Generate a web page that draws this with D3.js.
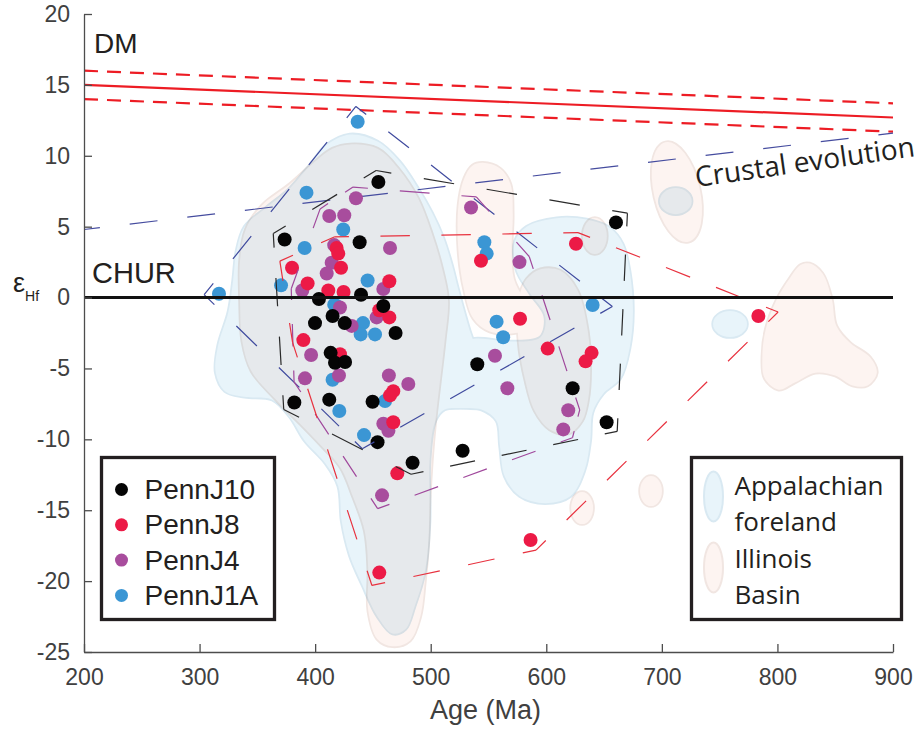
<!DOCTYPE html>
<html>
<head>
<meta charset="utf-8">
<script src="https://cdn.jsdelivr.net/npm/d3@7"></script>
<style>
  body { margin: 0; background: #fff; }
  text { font-family: "Liberation Sans", Arial, sans-serif; fill: #231f20; }
  .myriad { font-family: "Open Sans", sans-serif; }
  .tick text { fill: #404040; }
</style>
</head>
<body>
<svg id="chart"></svg>
<script>
var svgWidth = 918;
var svgHeight = 731;

var margin = { top: 14, right: 25, bottom: 79, left: 84 };
var width = svgWidth - margin.left - margin.right;
var height = svgHeight - margin.top - margin.bottom;

// zircon samples, [age (Ma), eHf]
var pennJ10 = [[373.6,4.1],[438.5,3.9],[454.7,8.15],[439.7,0.2],[403.3,-0.1],[459,-0.6],[415.1,-1.3],
  [399.9,-1.8],[425.6,-1.8],[469.6,-2.5],[413.4,-3.9],[417.2,-4.6],[425.9,-4.55],[382,-7.4],[412.2,-7.2],
  [449.7,-7.35],[454,-10.2],[484.3,-11.65],[527.6,-10.8],[540.3,-4.7],[660.3,5.3],[622.8,-6.4],[652.2,-8.8]];
var pennJ8 = [[418.6,3.5],[420,3.1],[380,2.1],[422.4,2.1],[464.2,1.15],[393.5,1.0],[411.4,0.5],[424.6,0.4],
  [455.5,-0.9],[464.2,-1.4],[389.8,-3.0],[421.5,-4.0],[467.6,-6.6],[464.8,-6.9],[467.6,-8.8],[471.1,-12.4],
  [455.5,-19.4],[586.4,-17.1],[543.5,2.6],[625.7,3.8],[577.3,-1.5],[601.2,-3.6],[639.2,-3.9],[634,-4.5],[783.5,-1.3]];
var pennJ4 = [[435.3,7.0],[412.2,5.75],[425.2,5.8],[464.8,3.5],[416.5,3.7],[414.3,2.45],[410,1.7],[388.9,0.5],
  [459,0.6],[421.5,-0.7],[453.2,-1.4],[431.6,-2.0],[396.5,-4.05],[420.6,-5.5],[391.2,-5.7],[463.8,-5.5],
  [480.6,-6.1],[459,-8.9],[463.4,-9.4],[457.9,-13.95],[534.9,6.35],[576.8,2.5],[555.6,-4.1],[566.3,-6.4],
  [619,-7.95],[614.7,-9.3]];
var pennJ1A = [[436.8,12.4],[392.5,7.4],[424.3,4.8],[390.9,3.5],[445.4,1.2],[370.5,0.86],[316.8,0.27],
  [416.5,-0.5],[418.6,-0.6],[441.4,-1.8],[439.4,-2.6],[451.8,-2.6],[415.1,-5.8],[420.9,-8.0],[460.5,-7.3],
  [442.3,-9.7],[546.4,3.9],[548.4,3.1],[557,-1.7],[562.7,-2.8],[640.1,-0.53]];

var seriesNames = ["PennJ10", "PennJ8", "PennJ4", "PennJ1A"];
var seriesColors = ["#050505", "#ec1a46", "#a84d9d", "#3b96d4"];
var hullColors = ["#2a2a2a", "#e8323f", "#a0489c", "#3f4a9e"];

// reference lines, [age, eHf] end points
var dmLine = [[200, 15.0], [900, 12.7]];
var dmUpper = [[200, 16.0], [900, 13.7]];
var dmLower = [[200, 14.0], [900, 11.7]];
var crustalLine = [[200, 4.8], [900, 11.6]];

// density outlines, Appalachian foreland
var appalachianMain = [[430,11.5],[454,11.0],[473,9.6],[489,7.7],[501,6.0],[511,4.2],[518,2.4],[524,0.5],
  [534,-2.4],[543,-4.5],[547,-6.9],[534,-7.7],[512,-7.9],[504,-8.7],[499,-11.5],[499,-15.8],[495,-19.3],
  [486,-21.8],[478,-23.4],[467,-23.7],[454,-22.5],[441,-20.3],[430,-18.2],[423,-15.8],[420,-13.3],
  [409,-11.7],[391,-10.1],[378,-8.4],[363,-7.2],[339,-7.0],[322,-6.6],[314,-5.3],[316,-3.4],[325,-1.0],
  [329,1.2],[332,3.3],[339,5.0],[357,6.3],[378,7.7],[396,9.4],[409,10.7]];
var appalachianEast = [[573,4.0],[583,5.0],[609,5.6],[635,5.5],[655,4.9],[666,3.8],[672,1.9],[675,-1.0],
  [672,-3.6],[664,-5.7],[649,-6.8],[640,-8.1],[638,-10.1],[633,-12.2],[621,-14.0],[599,-14.5],[577,-14.0],
  [564,-12.6],[560,-10.5],[557,-8.7],[544,-7.9],[524,-7.7],[510,-6.7],[508,-4.8],[517,-3.4],[538,-2.9],
  [569,-3.1],[595,-2.8],[599,-1.3],[586,0.3],[574,2.0]];
// [age, eHf, radius age, radius eHf, rotation deg]
var appalachianSpots = [[712,6.8,13.8,0.92,0],[759,-1.87,14.7,0.92,0]];

// density outlines, Illinois Basin
var illinoisMain = [[430,10.8],[454,10.5],[472,9.1],[489,7.0],[501,4.5],[510,2.0],[515,-0.2],[512,-3.1],
  [508,-5.9],[504,-8.7],[501,-11.5],[499,-14.4],[498,-17.2],[495,-20.0],[491,-22.5],[482,-24.2],
  [467,-24.6],[454,-24.1],[446,-22.1],[446,-19.3],[443,-16.5],[433,-14.1],[422,-12.0],[407,-10.6],
  [387,-8.9],[365,-7.1],[345,-5.2],[337,-3.1],[335,-0.2],[335,2.6],[340,4.8],[354,6.5],[378,8.0],
  [400,9.6],[415,10.5]];
var illinoisColumn = [[545,9.5],[560,9.1],[569,8.0],[571,5.9],[570,3.3],[572,1.3],[580,0.0],[589,-1.0],
  [588,-2.0],[573,-2.5],[551,-2.4],[537,-1.5],[529,0.5],[524,3.3],[524,6.5],[529,8.4],[536,9.3]];
var illinoisMiddle = [[595,2.0],[612,1.9],[627,0.5],[636,-2.4],[638,-5.2],[636,-7.3],[631,-8.7],[619,-9.6],
  [603,-9.3],[590,-8.0],[582,-5.9],[576,-3.1],[576,-0.2],[583,1.3]];
var illinoisEast = [[828,2.4],[839,1.7],[847,-0.1],[851,-2.0],[863,-3.2],[880,-4.2],[886,-5.3],[878,-6.2],
  [865,-6.2],[850,-5.5],[833,-5.3],[815,-6.0],[801,-6.5],[789,-5.7],[787,-4.1],[790,-2.2],[799,-0.2],
  [811,1.4],[820,2.3]];
var illinoisSpots = [[642,4.34,10.4,1.27,0],[713,7.44,19.9,3.6,-13],[631,-14.85,9.5,1.13,0],[690.6,-13.65,9.5,1.06,0]];

var xTicks = [200, 300, 400, 500, 600, 700, 800, 900];
var yTicks = [-25, -20, -15, -10, -5, 0, 5, 10, 15, 20];

var blueFill = "#e8f4fa", blueEdge = "#d9e9f2";
var pinkFill = "#fdf4f1", pinkEdge = "#f1e6e2";

var svg = d3.select("#chart")
  .attr("width", svgWidth)
  .attr("height", svgHeight);

var chartGroup = svg.append("g")
  .attr("transform", `translate(${margin.left}, ${margin.top})`);

var x = d3.scaleLinear().domain([200, 900]).range([0, width]);
var y = d3.scaleLinear().domain([-25, 20]).range([height, 0]);

chartGroup.append("clipPath").attr("id", "plotClip")
  .append("rect").attr("width", width).attr("height", height);

var plot = chartGroup.append("g").attr("clip-path", "url(#plotClip)");

var blob = d3.line()
  .x(d => x(d[0]))
  .y(d => y(d[1]))
  .curve(d3.curveCatmullRomClosed.alpha(0.5));

// draws outlines first then fills, so overlapping shapes merge without inner borders
function drawRegions(layer, shapes, spots, fill, edge) {
  [true, false].forEach(function(isEdge) {
    shapes.forEach(function(s) {
      layer.append("path")
        .attr("d", blob(s))
        .attr("fill", fill)
        .attr("stroke", isEdge ? edge : "none")
        .attr("stroke-width", 3.5);
    });
    spots.forEach(function(s) {
      var cx = x(s[0]), cy = y(s[1]);
      layer.append("ellipse")
        .attr("cx", cx).attr("cy", cy)
        .attr("rx", x(s[0] + s[2]) - cx)
        .attr("ry", cy - y(s[1] + s[3]))
        .attr("transform", `rotate(${s[4]}, ${cx}, ${cy})`)
        .attr("fill", fill)
        .attr("stroke", isEdge ? edge : "none")
        .attr("stroke-width", 3.5);
    });
  });
}

var blueLayer = plot.append("g");
drawRegions(blueLayer, [appalachianMain, appalachianEast], appalachianSpots, blueFill, blueEdge);

var pinkLayer = plot.append("g").style("mix-blend-mode", "multiply");
drawRegions(pinkLayer, [illinoisMain, illinoisColumn, illinoisMiddle, illinoisEast], illinoisSpots, pinkFill, pinkEdge);

var straight = d3.line().x(d => x(d[0])).y(d => y(d[1]));

// DM envelope
plot.append("path").attr("d", straight(dmLine))
  .attr("fill", "none").attr("stroke", "#ed1c24").attr("stroke-width", 2.2);
[dmUpper, dmLower].forEach(function(l) {
  plot.append("path").attr("d", straight(l))
    .attr("fill", "none").attr("stroke", "#ed1c24").attr("stroke-width", 2.2)
    .attr("stroke-dasharray", "14,9");
});

// crustal evolution trend
plot.append("path").attr("d", straight(crustalLine))
  .attr("fill", "none").attr("stroke", "#454c9f").attr("stroke-width", 1.2)
  .attr("stroke-dasharray", "28,30").attr("stroke-dashoffset", 12);

// convex hull pushed outwards by r pixels
function offsetHull(pts, r) {
  var hull = d3.polygonHull(pts);
  var c = d3.polygonCentroid(hull);
  var n = hull.length;
  var normals = hull.map(function(p, i) {
    var q = hull[(i + 1) % n];
    var dx = q[0] - p[0], dy = q[1] - p[1], len = Math.hypot(dx, dy);
    var nx = dy / len, ny = -dx / len;
    var mx = (p[0] + q[0]) / 2 - c[0], my = (p[1] + q[1]) / 2 - c[1];
    if (nx * mx + ny * my < 0) { nx = -nx; ny = -ny; }
    return [nx, ny];
  });
  return hull.map(function(p, i) {
    var n1 = normals[(i - 1 + n) % n], n2 = normals[i];
    var k = r / (1 + n1[0] * n2[0] + n1[1] * n2[1]);
    return [p[0] + k * (n1[0] + n2[0]), p[1] + k * (n1[1] + n2[1])];
  });
}

var allSeries = [pennJ10, pennJ8, pennJ4, pennJ1A];

// points, blue drawn first and black on top
var drawOrder = [3, 2, 1, 0];
drawOrder.forEach(function(si) {
  plot.append("g").selectAll("circle")
    .data(allSeries[si])
    .enter().append("circle")
    .attr("cx", d => x(d[0]))
    .attr("cy", d => y(d[1]))
    .attr("r", 7)
    .attr("fill", seriesColors[si]);
});

// dashed hulls, every corner sits in the middle of a dash
drawOrder.forEach(function(si) {
  var px = allSeries[si].map(d => [x(d[0]), y(d[1])]);
  var poly = offsetHull(px, 11);
  var g = plot.append("g");
  poly.forEach(function(p, i) {
    var q = poly[(i + 1) % poly.length];
    var L = Math.hypot(q[0] - p[0], q[1] - p[1]);
    var k = Math.max(1, Math.round(L / 58));
    var per = L / k, dash = per * 28 / 58;
    g.append("line")
      .attr("x1", p[0]).attr("y1", p[1])
      .attr("x2", q[0]).attr("y2", q[1])
      .attr("stroke", hullColors[si])
      .attr("stroke-width", 1.2)
      .attr("stroke-dasharray", dash + "," + (per - dash))
      .attr("stroke-dashoffset", dash / 2);
  });
});

// CHUR
plot.append("line")
  .attr("x1", x(200)).attr("x2", x(900))
  .attr("y1", y(0)).attr("y2", y(0))
  .attr("stroke", "#111").attr("stroke-width", 3);

// axes
var bottomAxis = d3.axisBottom(x).tickValues(xTicks).tickSizeInner(-8).tickSizeOuter(0)
  .tickPadding(17).tickFormat(d => String(d));
var leftAxis = d3.axisLeft(y).tickValues(yTicks).tickSizeInner(-8).tickSizeOuter(0)
  .tickPadding(14).tickFormat(d => String(d));

var xAxis = chartGroup.append("g")
  .attr("transform", `translate(0, ${height})`)
  .call(bottomAxis);
var yAxis = chartGroup.append("g").call(leftAxis);

[xAxis, yAxis].forEach(function(a) {
  a.select(".domain").attr("stroke", "#4d4d4d").attr("stroke-width", 1.3);
  a.selectAll(".tick line").attr("stroke", "#4d4d4d").attr("stroke-width", 1.3);
  a.selectAll(".tick text").attr("font-size", "23px").attr("font-family", "Liberation Sans, Arial, sans-serif");
});

chartGroup.append("text")
  .attr("x", width / 2 - 3).attr("y", height + 67)
  .attr("text-anchor", "middle")
  .attr("font-size", "27px")
  .style("fill", "#404040")
  .text("Age (Ma)");

var yLabel = svg.append("text").attr("x", 13).attr("y", 292).attr("font-size", "27px");
yLabel.append("tspan").text("ε");
yLabel.append("tspan").attr("font-size", "14px").attr("dy", 9).text("Hf");

chartGroup.append("text").attr("x", 10).attr("y", 39).attr("font-size", "28px").text("DM");
chartGroup.append("text").attr("x", 8).attr("y", 269).attr("font-size", "29px").text("CHUR");

chartGroup.append("text")
  .attr("class", "myriad")
  .attr("transform", `translate(${x(730)}, ${y(7.8)}) rotate(-8)`)
  .attr("font-size", "28px")
  .text("Crustal evolution");

// sample legend
var legL = svg.append("g").attr("transform", "translate(101.5, 457.5)");
legL.append("rect").attr("width", 173).attr("height", 162)
  .attr("fill", "#fff").attr("stroke", "#231f20").attr("stroke-width", 3.3);
seriesNames.forEach(function(name, i) {
  legL.append("circle").attr("cx", 20).attr("cy", 32 + i * 35.3).attr("r", 6.5).attr("fill", seriesColors[i]);
  legL.append("text").attr("x", 43).attr("y", 41.5 + i * 35.3).attr("font-size", "28px").text(name);
});

// basin legend
var basinNames = [["Appalachian", "foreland"], ["Illinois", "Basin"]];
var basinFills = [blueFill, pinkFill];
var basinEdges = [blueEdge, pinkEdge];
var legR = svg.append("g").attr("transform", "translate(691.5, 457.5)");
legR.append("rect").attr("width", 210).attr("height", 162)
  .attr("fill", "#fff").attr("stroke", "#231f20").attr("stroke-width", 3.3);
basinNames.forEach(function(lines, i) {
  legR.append("ellipse").attr("cx", 22).attr("cy", 39 + i * 71).attr("rx", 9.5).attr("ry", 25)
    .attr("fill", basinFills[i]).attr("stroke", basinEdges[i]).attr("stroke-width", 2);
  lines.forEach(function(t, j) {
    legR.append("text").attr("class", "myriad")
      .attr("x", 43).attr("y", 37.5 + i * 73 + j * 36)
      .attr("font-size", "26px").text(t);
  });
});
</script>
</body>
</html>
